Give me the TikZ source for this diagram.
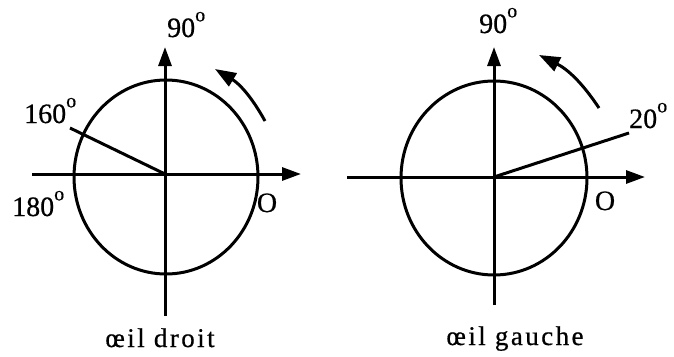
\documentclass[tikz,border=0pt]{standalone}
\usepackage{fontspec}
\setmainfont[FakeBold=0.6]{Liberation Serif}
\newfontfamily\capfont[LetterSpace=9,FakeBold=0.6]{Liberation Serif}
\usetikzlibrary{arrows.meta}
\newcommand{\dgr}{\raisebox{0.56em}{\fontsize{20}{20}\selectfont o}}
\begin{document}
\begin{tikzpicture}[x=1pt,y=-1pt,
  line/.style={line width=3pt},
  axis/.style={line, -{Triangle[length=19pt,width=13pt]}},
  rot/.style={line, -{Triangle[length=21pt,width=15pt]}},
  lbl/.style={inner sep=0pt, font=\fontsize{28}{28}\selectfont},
  captext/.style={inner sep=0pt, font=\capfont\fontsize{27}{27}\selectfont}]
\useasboundingbox[fill=white] (0,0) rectangle (674,356);
% ---------- left: oeil droit ----------
\coordinate (Lo) at (165,174);
\coordinate (Lb) at (165,316);
\coordinate (Lt) at (165,47);
\coordinate (Ll) at (32,174);
\coordinate (Lr) at (301,174);
\coordinate (Lr160) at (70,128);
\coordinate (La1) at (265,121);
\coordinate (La2) at (215,69);
\draw[line] (166,177) ellipse [x radius=92, y radius=97];
\draw[axis] (Lb) -- (Lt);
\draw[axis] (Ll) -- (Lr);
\draw[line] (Lo) -- (Lr160);
\draw[rot] (La1) to[bend right=15] (La2);
\node[lbl, anchor=base west] (L90) at (167,37) {90\dgr};
\node[lbl, anchor=base west] (L160) at (24,123) {160\dgr};
\node[lbl, anchor=base west] (L180) at (12,216) {180\dgr};
\node[lbl, anchor=base] (LO) at (267,212) {O};
\node[captext, anchor=base] (Lcap) at (160,347) {œil droit};
% ---------- right: oeil gauche ----------
\coordinate (Ro) at (494,177);
\coordinate (Rb) at (494,305);
\coordinate (Rt) at (494,47);
\coordinate (Rl) at (347,177);
\coordinate (Rr) at (645,177);
\coordinate (Rr20) at (629,133);
\coordinate (Ra1) at (599,108);
\coordinate (Ra2) at (539,55);
\draw[line] (494,178) ellipse [x radius=93, y radius=97];
\draw[axis] (Rb) -- (Rt);
\draw[axis] (Rl) -- (Rr);
\draw[line] (Ro) -- (Rr20);
\draw[rot] (Ra1) to[bend right=15] (Ra2);
\node[lbl, anchor=base west] (R90) at (479,33) {90\dgr};
\node[lbl, anchor=base west] (R20) at (629,128) {20\dgr};
\node[lbl, anchor=base] (RO) at (605,210) {O};
\node[captext, anchor=base] (Rcap) at (515,345) {œil gauche};
\end{tikzpicture}
\end{document}
